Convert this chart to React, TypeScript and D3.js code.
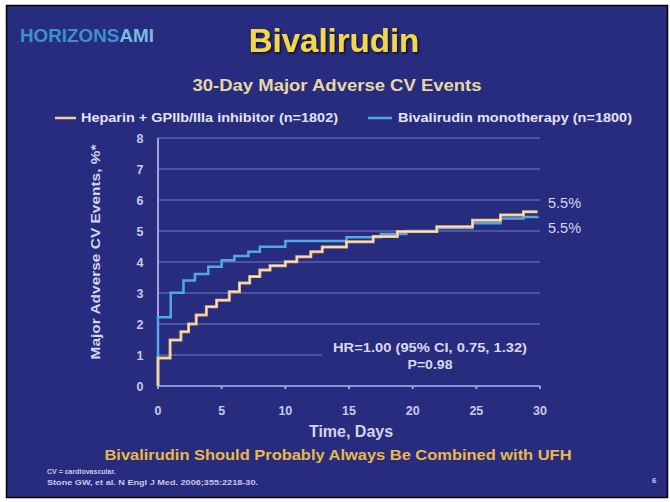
import React from "react";
import * as d3 from "d3";

const xTicks = [0, 5, 10, 15, 20, 25, 30];
const yTicks = [0, 1, 2, 3, 4, 5, 6, 7, 8];

const heparinDays = [0, 0, 0.95, 1.8, 2.4, 3.0, 3.8, 4.6, 5.6, 6.4, 7.2, 8.0, 8.8, 10.0, 10.9, 12.0, 12.9, 14.8, 16.9, 18.8, 21.9, 24.7, 26.9, 28.7, 29.8];
const heparinRates = [0, 0.9, 1.48, 1.75, 2.0, 2.29, 2.56, 2.77, 3.04, 3.32, 3.53, 3.74, 3.88, 4.01, 4.17, 4.33, 4.48, 4.65, 4.82, 4.98, 5.14, 5.35, 5.52, 5.62, 5.62];

const bivDays = [0, 0, 1.0, 2.0, 2.9, 3.95, 5.0, 6.0, 7.1, 8.0, 10.0, 14.8, 17.5, 19.5, 21.9, 24.7, 26.9, 28.7, 29.8];
const bivRates = [0, 2.22, 3.01, 3.4, 3.61, 3.85, 4.06, 4.19, 4.33, 4.49, 4.68, 4.8, 4.9, 5.0, 5.1, 5.25, 5.4, 5.45, 5.47];

const seriesNames = ["Heparin + GPIIb/IIIa inhibitor (n=1802)", "Bivalirudin monotherapy (n=1800)"];
const endLabels = ["5.5%", "5.5%"];

const BG = "#282c7e";
const FONT = "'Liberation Sans', Arial, sans-serif";

export default function App() {
  const x = d3.scaleLinear().domain([0, 30]).range([158, 540]);
  const y = d3.scaleLinear().domain([0, 8]).range([386, 138]);
  const line = d3
    .line<[number, number]>()
    .x((d) => x(d[0]))
    .y((d) => y(d[1]))
    .curve(d3.curveStepAfter);
  const hep = heparinDays.map((d, i) => [d, heparinRates[i]] as [number, number]);
  const biv = bivDays.map((d, i) => [d, bivRates[i]] as [number, number]);

  return (
    <div style={{ position: "absolute", left: 0, top: 0 }}>
      <svg width={670} height={502} style={{ display: "block", fontFamily: FONT }}>
        <defs>
          <filter id="shadow" x="-10%" y="-20%" width="120%" height="150%">
            <feDropShadow dx={1.5} dy={1.5} stdDeviation={0.8} floodColor="#000" floodOpacity={0.7} />
          </filter>
        </defs>
        <rect x={0} y={0} width={670} height={502} fill="#ffffff" />
        <rect x={6.5} y={5.5} width={661} height={492} fill={BG} stroke="#000" strokeWidth={1.5} />

        {/* logo */}
        <text x={20} y={42} fontSize={18} fontWeight="bold" fill="#3a92cc" textLength={134} lengthAdjust="spacingAndGlyphs">
          HORIZONS<tspan fill="#78bce6">AMI</tspan>
        </text>

        {/* title */}
        <text x={334} y={52} textAnchor="middle" fontSize={33} fontWeight="bold" fill="#f2d84a" filter="url(#shadow)">Bivalirudin</text>
        <text x={337} y={91} textAnchor="middle" fontSize={17} fontWeight="bold" fill="#e6d7a2" textLength={289} lengthAdjust="spacingAndGlyphs">
          30-Day Major Adverse CV Events
        </text>

        {/* legend */}
        <line x1={55} x2={76} y1={118} y2={118} stroke="#f6cf98" strokeWidth={2.5} />
        <text x={81} y={122} fontSize={12.5} fontWeight="bold" fill="#e2e2f2" textLength={257} lengthAdjust="spacingAndGlyphs">{seriesNames[0]}</text>
        <line x1={368} x2={392} y1={118} y2={118} stroke="#52a8e2" strokeWidth={2.5} />
        <text x={398} y={122} fontSize={12.5} fontWeight="bold" fill="#e2e2f2" textLength={234} lengthAdjust="spacingAndGlyphs">{seriesNames[1]}</text>

        {/* gridlines */}
        {yTicks.filter((t) => t > 0).map((t) => (
          <line key={t} x1={x(0)} x2={x(30)} y1={y(t)} y2={y(t)} stroke="#5b5fb2" strokeWidth={1.5} />
        ))}

        {/* axes */}
        <line x1={x(0)} x2={x(0)} y1={y(0)} y2={y(8)} stroke="#a0a2e2" strokeWidth={2} />
        <line x1={x(0)} x2={x(30)} y1={y(0)} y2={y(0)} stroke="#8e90d6" strokeWidth={2} />
        {xTicks.map((t) => (
          <g key={t}>
            <line x1={x(t)} x2={x(t)} y1={y(0)} y2={y(0) + 3} stroke="#a0a2e2" strokeWidth={2} />
            <text x={x(t)} y={415} textAnchor="middle" fontSize={12.5} fontWeight="bold" fill="#c9c9ec">{t}</text>
          </g>
        ))}
        {yTicks.map((t) => (
          <text key={t} x={140} y={y(t) + 4.5} textAnchor="middle" fontSize={12.5} fontWeight="bold" fill="#c9c9ec">{t}</text>
        ))}

        {/* axis titles */}
        <text x={351} y={437} textAnchor="middle" fontSize={16} fontWeight="bold" fill="#d4d4f0">Time, Days</text>
        <text transform="translate(100,252) rotate(-90)" textAnchor="middle" fontSize={13.5} fontWeight="bold" fill="#d4d4f0" textLength={215} lengthAdjust="spacingAndGlyphs">
          Major Adverse CV Events, %*
        </text>

        {/* stats box */}
        <rect x={322} y={338} width={220} height={36} fill={BG} />
        <text x={430} y={352} textAnchor="middle" fontSize={12} fontWeight="bold" fill="#d8d8f2" textLength={194} lengthAdjust="spacingAndGlyphs">HR=1.00 (95% CI, 0.75, 1.32)</text>
        <text x={430} y={369} textAnchor="middle" fontSize={12} fontWeight="bold" fill="#d8d8f2" textLength={45} lengthAdjust="spacingAndGlyphs">P=0.98</text>

        {/* curves */}
        <path d={line(biv) || ""} fill="none" stroke="#52a8e2" strokeWidth={2.5} />
        <path d={line(hep) || ""} fill="none" stroke="#e8b878" strokeWidth={3} />
        <path d={line(hep) || ""} fill="none" stroke="#fbe6c4" strokeWidth={1.2} />

        {/* end labels */}
        <text x={548} y={208} fontSize={14.5} fill="#d6d6f2">{endLabels[0]}</text>
        <text x={548} y={233} fontSize={14.5} fill="#d6d6f2">{endLabels[1]}</text>

        {/* footer */}
        <text x={338} y={460} textAnchor="middle" fontSize={15} fontWeight="bold" fill="#e8b84a" textLength={467} lengthAdjust="spacingAndGlyphs">
          Bivalirudin Should Probably Always Be Combined with UFH
        </text>
        <text x={47} y={474} fontSize={7} fontWeight="bold" fill="#c8c8e8">CV = cardiovascular.</text>
        <text x={47} y={485} fontSize={7} fontWeight="bold" fill="#c8c8e8" textLength={211} lengthAdjust="spacingAndGlyphs">
          Stone GW, et al. N Engl J Med. 2006;355:2218-30.
        </text>
        <text x={652} y={483} fontSize={8} fontWeight="bold" fill="#c8c8e8">6</text>
      </svg>
    </div>
  );
}
